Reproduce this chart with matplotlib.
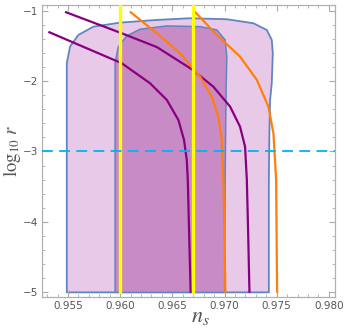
import matplotlib
matplotlib.use("Agg")
import matplotlib.pyplot as plt
from matplotlib.patches import Polygon
from matplotlib.ticker import MultipleLocator

plt.rcParams['mathtext.fontset'] = 'stix'

# ---- data ------------------------------------------------------------------
# 95% / 68% regions (n_s, log10 r), traced clockwise from bottom-left
outer_ns = [0.95488, 0.95488, 0.95519, 0.95599, 0.95743, 0.95999, 0.96351, 0.96670,
            0.97022, 0.97277, 0.97405, 0.97453, 0.97463, 0.97453, 0.97437, 0.97430,
            0.97425, 0.97425]
outer_lr = [-5.0, -1.747, -1.511, -1.345, -1.227, -1.170, -1.132, -1.108,
            -1.122, -1.179, -1.274, -1.416, -1.605, -2.031, -2.268, -2.737,
            -3.405, -5.0]

inner_ns = [0.95951, 0.95951, 0.95982, 0.96063, 0.96190, 0.96447, 0.96766, 0.96926,
            0.97006, 0.97022, 0.97015, 0.97006, 0.97001]
inner_lr = [-5.0, -1.747, -1.511, -1.359, -1.264, -1.217, -1.227, -1.274,
            -1.416, -1.653, -2.126, -3.405, -5.0]

# model predictions
purple1_ns = [0.95481, 0.95989, 0.96351, 0.96686, 0.96893, 0.97054, 0.97149, 0.97197,
              0.97214, 0.97226, 0.97239]
purple1_lr = [-1.023, -1.307, -1.517, -1.832, -2.080, -2.364, -2.648, -2.932,
              -3.405, -4.118, -4.991]

purple2_ns = [0.95321, 0.96015, 0.96286, 0.96447, 0.96558, 0.96612, 0.96638, 0.96648,
              0.96660, 0.96675]
purple2_lr = [-1.307, -1.747, -2.031, -2.268, -2.553, -2.837, -3.121, -3.405,
              -4.118, -4.991]

orange1_ns = [0.96101, 0.96351, 0.96574, 0.96766, 0.96878, 0.96941, 0.96974, 0.96989,
              0.96999, 0.97008]
orange1_lr = [-1.023, -1.321, -1.605, -1.938, -2.222, -2.506, -2.837, -3.405,
              -4.115, -4.991]

orange2_ns = [0.96708, 0.96926, 0.97149, 0.97310, 0.97421, 0.97469, 0.97495, 0.97504]
orange2_lr = [-1.004, -1.345, -1.653, -1.984, -2.364, -2.741, -3.405, -4.991]

yellow_ns = [0.9600, 0.9670]
r_line = -3.0

xticks = [0.955, 0.960, 0.965, 0.970, 0.975, 0.980]
yticks = [-1, -2, -3, -4, -5]

# ---- figure ----------------------------------------------------------------
fig = plt.figure(figsize=(3.44, 3.29), dpi=100)
ax = fig.add_axes([0.122, 0.098, 0.853, 0.887])

edge = '#5f86c0'
ax.add_patch(Polygon(list(zip(outer_ns, outer_lr)), closed=True,
                     facecolor='#e8c9e7', edgecolor=edge, lw=1.3,
                     joinstyle='round', zorder=1))
ax.add_patch(Polygon(list(zip(inner_ns, inner_lr)), closed=True,
                     facecolor='#c98bc6', edgecolor=edge, lw=1.1,
                     joinstyle='round', zorder=2))

for xs, ys, c in [(purple1_ns, purple1_lr, '#87007f'),
                  (purple2_ns, purple2_lr, '#87007f'),
                  (orange1_ns, orange1_lr, '#ff7f0a'),
                  (orange2_ns, orange2_lr, '#ff7f0a')]:
    ax.plot(xs, ys, color=c, lw=1.6, solid_joinstyle='round', zorder=3)

for x in yellow_ns:
    ax.plot([x, x], [-5.0, -0.9], color='#ffff00', lw=2.4, zorder=4)

ax.axhline(r_line, color='#00b4f0', lw=1.3, dashes=(6, 3.5), zorder=5)

ax.set_xlim(0.9525, 0.98063)
ax.set_ylim(-5.0625, -0.919)

ax.set_xticks(xticks)
ax.set_xticklabels(['%.3f' % t for t in xticks])
ax.set_yticks(yticks)
ax.set_yticklabels(['\u2212%d' % -t for t in yticks])
ax.xaxis.set_minor_locator(MultipleLocator(0.001))
ax.yaxis.set_minor_locator(MultipleLocator(0.2))

ax.tick_params(which='both', direction='in', top=True, right=True,
               color='#aaaaaa', labelcolor='#555555', labelsize=7.5)
ax.tick_params(which='major', length=4, width=0.8, pad=3)
ax.tick_params(which='minor', length=2.2, width=0.6)
for s in ax.spines.values():
    s.set_color('#b0b0b0')
    s.set_linewidth(0.9)

ax.set_xlabel(r'$n_s$', fontsize=16, color='#555555')
ax.xaxis.set_label_coords(0.54, -0.036)
ax.set_ylabel(r'$\log_{10}\,r$', fontsize=13.5, color='#555555')
ax.yaxis.set_label_coords(-0.066, 0.5)

fig.savefig('out.png', dpi=100)
